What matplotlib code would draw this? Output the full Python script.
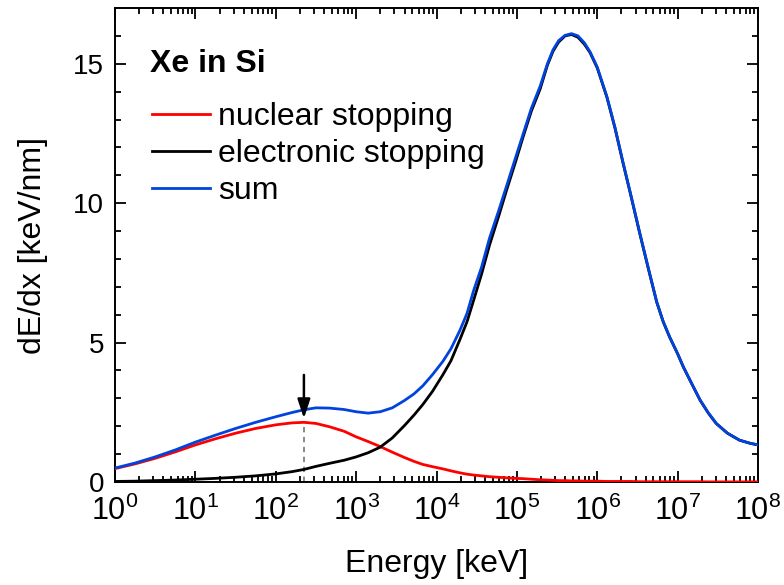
import matplotlib
matplotlib.use("Agg")
import matplotlib.pyplot as plt
import numpy as np
from matplotlib.ticker import LogLocator, MultipleLocator, NullFormatter
from matplotlib.lines import Line2D

plt.rcParams['font.family'] = ['Liberation Sans', 'DejaVu Sans']
plt.rcParams['mathtext.fontset'] = 'custom'
plt.rcParams['mathtext.rm'] = 'Liberation Sans'

# ---- data ----
log_energy = [0.00, 0.25, 0.50, 0.75, 1.00, 1.25, 1.50, 1.75, 2.00, 2.20, 2.35, 2.50,
              2.67, 2.85, 3.00, 3.15, 3.30, 3.45, 3.60, 3.72, 3.83, 3.95, 4.08, 4.18,
              4.29, 4.38, 4.46, 4.56, 4.66, 4.77, 4.87, 4.98, 5.08, 5.18, 5.29, 5.38,
              5.45, 5.52, 5.60, 5.68, 5.76, 5.84, 5.91, 6.00, 6.12, 6.22, 6.32, 6.42,
              6.53, 6.64, 6.74, 6.82, 6.90, 7.00, 7.07, 7.18, 7.28, 7.38, 7.48, 7.62,
              7.77, 7.90, 8.00]
nuclear = [0.48, 0.65, 0.85, 1.08, 1.33, 1.55, 1.75, 1.92, 2.05, 2.12, 2.14, 2.10,
           1.98, 1.82, 1.62, 1.45, 1.27, 1.07, 0.88, 0.74, 0.63, 0.55, 0.47, 0.40,
           0.33, 0.28, 0.25, 0.22, 0.19, 0.17, 0.15, 0.13, 0.12, 0.10, 0.08, 0.07,
           0.06, 0.05, 0.05, 0.04, 0.04, 0.03, 0.03, 0.03, 0.02, 0.02, 0.02, 0.02,
           0.01, 0.01, 0.01, 0.01, 0.01, 0.01, 0.01, 0.01, 0.01, 0.005, 0.005, 0.005,
           0.005, 0.005, 0.005]
electronic = [0.02, 0.03, 0.05, 0.07, 0.10, 0.13, 0.17, 0.22, 0.29, 0.37, 0.45, 0.56,
              0.67, 0.78, 0.90, 1.05, 1.25, 1.58, 2.02, 2.40, 2.78, 3.25, 3.85, 4.35,
              5.10, 5.75, 6.50, 7.45, 8.50, 9.50, 10.45, 11.45, 12.40, 13.30, 14.10, 14.95,
              15.45, 15.78, 16.00, 16.05, 15.95, 15.70, 15.40, 14.85, 13.80, 12.70, 11.45, 10.25,
              8.90, 7.60, 6.45, 5.75, 5.20, 4.60, 4.13, 3.50, 2.93, 2.48, 2.10, 1.75,
              1.50, 1.39, 1.33]
total = [0.50, 0.68, 0.90, 1.15, 1.43, 1.68, 1.92, 2.14, 2.34, 2.49, 2.59, 2.66,
         2.65, 2.60, 2.52, 2.47, 2.52, 2.66, 2.92, 3.16, 3.45, 3.85, 4.33, 4.78,
         5.43, 6.05, 6.85, 7.70, 8.75, 9.70, 10.60, 11.60, 12.50, 13.40, 14.20, 15.00,
         15.50, 15.83, 16.02, 16.08, 16.00, 15.75, 15.43, 14.88, 13.82, 12.72, 11.47, 10.27,
         8.92, 7.62, 6.46, 5.76, 5.21, 4.60, 4.14, 3.50, 2.94, 2.49, 2.10, 1.75,
         1.50, 1.39, 1.33]
labels = ["nuclear stopping", "electronic stopping", "sum"]
colors = ["#ff0000", "#000000", "#0044dd"]
title_text = "Xe in Si"
peak_energy = 224.0      # position of nuclear-stopping maximum
peak_value = 2.14
arrow_top = 3.84
arrow_tip = 2.28

energy = np.power(10.0, log_energy)

fig = plt.figure(figsize=(7.84, 5.85), dpi=100)
ax = fig.add_axes([115/784, 1-482/585, (758-115)/784, (482-8)/585])

lw = 2.0
ax.plot([peak_energy, peak_energy], [0, peak_value], color="#808080", lw=1.3,
        ls=(0, (3, 2.5)), zorder=1)
ax.plot(energy, nuclear, color=colors[0], lw=lw, zorder=3)
ax.plot(energy, electronic, color=colors[1], lw=lw, zorder=3)
ax.plot(energy, total, color=colors[2], lw=lw, zorder=4)

ax.annotate("", xy=(peak_energy, arrow_tip), xytext=(peak_energy, arrow_top),
            arrowprops=dict(arrowstyle="-|>,head_length=1.15,head_width=0.38",
                            color="black", lw=1.8, shrinkA=0, shrinkB=0), zorder=5)

ax.set_xscale("log")
ax.set_xlim(1, 1e8)
ax.set_ylim(0, 17)
ax.xaxis.set_major_locator(LogLocator(base=10, numticks=20))
ax.xaxis.set_minor_locator(LogLocator(base=10, subs=np.arange(2, 10), numticks=100))
ax.xaxis.set_minor_formatter(NullFormatter())
ax.yaxis.set_major_locator(MultipleLocator(5))
ax.yaxis.set_minor_locator(MultipleLocator(1))

ax.tick_params(which="both", direction="in", top=True, right=True, width=1.3,
               colors="black")
ax.tick_params(which="major", length=8)
ax.tick_params(which="minor", length=4.5)
ax.tick_params(axis="x", which="major", labelsize=22, pad=10)
ax.tick_params(axis="y", which="major", labelsize=20, pad=8)
for s in ax.spines.values():
    s.set_linewidth(1.4)

ax.set_xlabel("Energy [keV]", fontsize=23, labelpad=16)
ax.set_ylabel("dE/dx [keV/nm]", fontsize=23, labelpad=18)

ax.text(0.055, 0.882, title_text, transform=ax.transAxes, fontsize=23,
        fontweight="bold", va="center", ha="left")
handles = [Line2D([], [], color=c, lw=lw) for c in colors]
leg = ax.legend(handles, labels, loc="upper left", bbox_to_anchor=(0.0575, 0.802),
                frameon=False, fontsize=23, handlelength=1.82, handletextpad=0.25,
                labelspacing=0.22, borderaxespad=0, borderpad=0)

fig.savefig("out.png", dpi=100)
